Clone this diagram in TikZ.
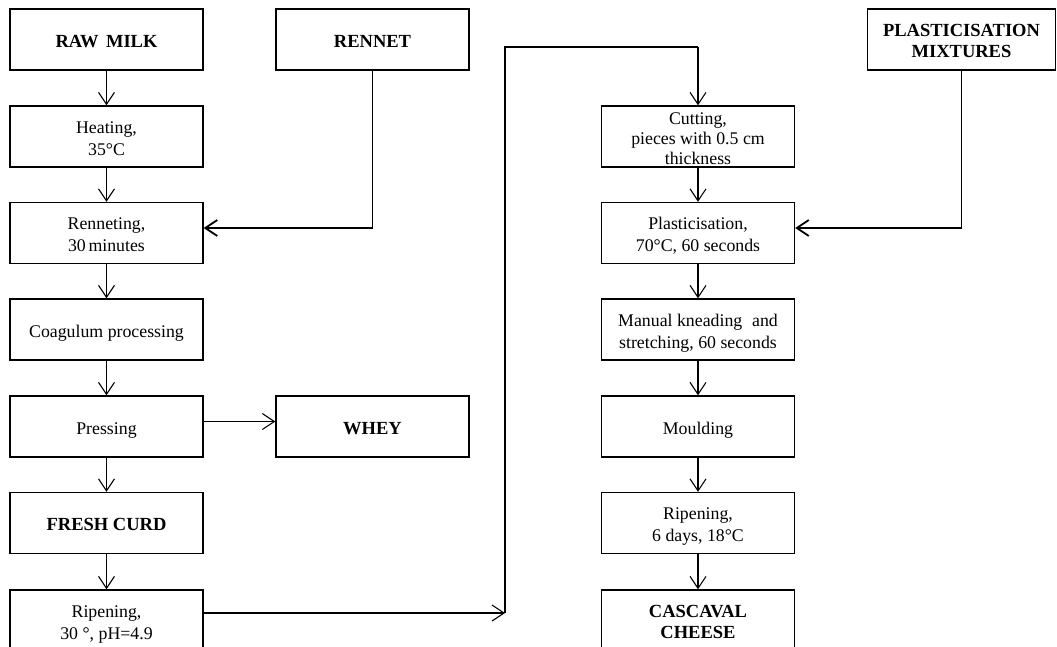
\documentclass[tikz,border=0pt]{standalone}
\usepackage{fontspec}
\setmainfont{Liberation Serif}
\usetikzlibrary{arrows.meta}
\newcommand{\boxtxt}[2]{\raisebox{-#1}[\height][\depth]{\begin{tabular}{@{}c@{}}#2\end{tabular}}}
\begin{document}
\begin{tikzpicture}[x=1pt,y=-1pt,
  box/.style={draw, line width=1.3pt, minimum width=193pt, minimum height=61pt, inner sep=0pt, font=\fontsize{17.8}{22}\selectfont},
  bbox/.style={box, font=\fontsize{18.5}{20.5}\selectfont\bfseries},
  tip/.style={-{Straight Barb[length=12pt,width=16pt]}},
  flow/.style={line width=1.1pt, tip},
  feed/.style={line width=1.8pt},
]
\useasboundingbox (0,0) rectangle (1057,647);
\clip (0,0) rectangle (1057,647);
% left column
\node[bbox] (raw) at (106.5,39.5) {\boxtxt{3.5pt}{RAW\hspace{0.15em} MILK}};
\node[box] (heat) at (106.5,136.5) {\boxtxt{3.5pt}{Heating,\\35°C}};
\node[box] (renn) at (106.5,233) {\boxtxt{3.5pt}{Renneting,\\30\hspace{-0.1em} minutes}};
\node[box] (coag) at (106.5,329.5) {\boxtxt{3.5pt}{Coagulum processing}};
\node[box] (press) at (106.5,426.5) {\boxtxt{3.5pt}{Pressing}};
\node[bbox] (curd) at (106.5,523) {\boxtxt{3.5pt}{FRESH CURD}};
\node[box] (rip1) at (106.5,620.5) {\boxtxt{3.5pt}{Ripening,\\30 °, pH=4.9}};
% middle
\node[bbox] (rennet) at (372.5,39.5) {\boxtxt{3.5pt}{RENNET}};
\node[bbox] (whey) at (372.5,426.5) {\boxtxt{3.5pt}{WHEY}};
% right column
\node[bbox, minimum width=188pt] (mix) at (961.5,39.5) {\boxtxt{3.5pt}{PLASTICISATION\\MIXTURES}};
\node[box, font=\fontsize{17.8}{20}\selectfont] (cut) at (698,136.5) {\boxtxt{4pt}{Cutting,\\pieces with 0.5 cm\\thickness}};
\node[box] (plast) at (698,233) {\boxtxt{3.5pt}{Plasticisation,\\70°C, 60 seconds}};
\node[box] (knead) at (698,329.5) {\boxtxt{3.5pt}{Manual kneading\hspace{0.3em} and\\stretching, 60 seconds}};
\node[box] (mould) at (698,426.5) {\boxtxt{3.5pt}{Moulding}};
\node[box] (rip2) at (698,523) {\boxtxt{3.5pt}{Ripening,\\6 days, 18°C}};
\node[bbox] (cheese) at (698,620.5) {\boxtxt{3.5pt}{CASCAVAL\\CHEESE}};
% flow arrows
\draw[flow] (raw) -- (heat);
\draw[flow] (heat) -- (renn);
\draw[flow] (renn) -- (coag);
\draw[flow] (coag) -- (press);
\draw[flow] (press) -- (curd);
\draw[flow] (curd) -- (rip1);
\draw[flow] ([yshift=5pt]press.east) -- ([yshift=5pt]whey.west);
\draw[flow] (cut) -- (plast);
\draw[flow] (plast) -- (knead);
\draw[flow] (knead) -- (mould);
\draw[flow] (mould) -- (rip2);
\draw[flow] (rip2) -- (cheese);
% feeds
\draw[feed, tip] (rennet.south) |- ([yshift=5pt]renn.east);
\draw[feed, tip] (mix.south) |- ([yshift=5pt]plast.east);
% loop from ripening to cutting
\coordinate (lb) at (505,613);
\coordinate (lt) at (505,47);
\draw[flow] (rip1.east |- lb) -- (lb);
\draw[feed] (lb) -- (lt) -- (lt -| cut.north);
\draw[flow] (lt -| cut.north) -- (cut.north);
\end{tikzpicture}
\end{document}
